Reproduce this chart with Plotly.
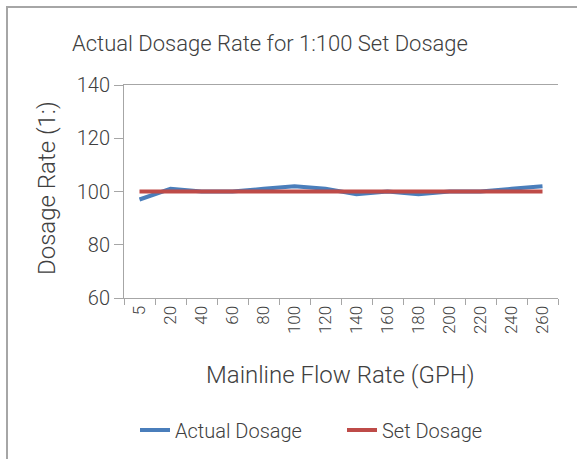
import plotly.graph_objects as go

flow_rates = ["5", "20", "40", "60", "80", "100", "120", "140", "160", "180", "200", "220", "240", "260"]
actual_dosage = [97, 101, 100, 100, 101, 102, 101, 99, 100, 99, 100, 100, 101, 102]
set_dosage = [100] * len(flow_rates)

W, H = 577, 459
L, R, T, B = 124, 19, 85, 161
pw, ph = W - L - R, H - T - B

font_family = "Roboto, 'Liberation Sans', sans-serif"
text_color = "#404040"
axis_color = "#a6a6a6"


def px_x(p):
    return (p - L) / pw


def px_y(p):
    return (T + ph - p) / ph


fig = go.Figure()
fig.add_trace(go.Scatter(x=flow_rates, y=actual_dosage, mode="lines", name="Actual Dosage",
                         line=dict(color="#4a7ebb", width=4)))
fig.add_trace(go.Scatter(x=flow_rates, y=set_dosage, mode="lines", name="Set Dosage",
                         line=dict(color="#be4b48", width=4)))

fig.update_layout(
    width=W, height=H,
    margin=dict(l=L, r=R, t=T, b=B, autoexpand=False),
    paper_bgcolor="white", plot_bgcolor="white",
    font=dict(family=font_family, color=text_color, weight=300),
    showlegend=True,
    legend=dict(orientation="h", x=px_x(135), xanchor="left", y=px_y(430),
                yanchor="middle", font=dict(size=20, color=text_color, weight=300),
                bgcolor="rgba(0,0,0,0)", entrywidth=162),
    xaxis=dict(
        type="category", range=[-0.5, 13.5], automargin=False,
        showgrid=False, showline=True, linecolor=axis_color, linewidth=1,
        mirror=True, ticks="outside", tickson="boundaries", ticklen=6, tickcolor=axis_color,
        tickangle=-90, tickfont=dict(size=17, color=text_color, weight=300),
        zeroline=False,
    ),
    yaxis=dict(
        range=[60, 140], dtick=20, automargin=False,
        showgrid=False, showline=True, linecolor=axis_color, linewidth=1,
        ticks="outside", ticklen=9, tickcolor=axis_color,
        tickfont=dict(size=20, color=text_color, weight=300),
        zeroline=False,
    ),
    annotations=[
        dict(text="Actual Dosage Rate for 1:100 Set Dosage", xref="paper", yref="paper",
             x=px_x(270), y=px_y(43), xanchor="center", yanchor="middle", showarrow=False,
             font=dict(size=22, color=text_color, weight=300)),
        dict(text="Mainline Flow Rate (GPH)", xref="paper", yref="paper",
             x=px_x(340), y=px_y(375), xanchor="center", yanchor="middle", showarrow=False,
             font=dict(size=24, color=text_color, weight=300)),
        dict(text="Dosage Rate (1:)", xref="paper", yref="paper", textangle=-90,
             x=px_x(47), y=px_y(188), xanchor="center", yanchor="middle", showarrow=False,
             font=dict(size=24, color=text_color, weight=300)),
    ],
    shapes=[dict(type="rect", xref="paper", yref="paper",
                 x0=px_x(7), x1=px_x(600), y0=px_y(480), y1=px_y(7),
                 line=dict(color=axis_color, width=2), fillcolor="rgba(0,0,0,0)", layer="below")],
)

fig.write_html("out.html", config={"displayModeBar": False},
               post_script="document.body.style.margin='0';document.body.style.overflow='hidden';")
